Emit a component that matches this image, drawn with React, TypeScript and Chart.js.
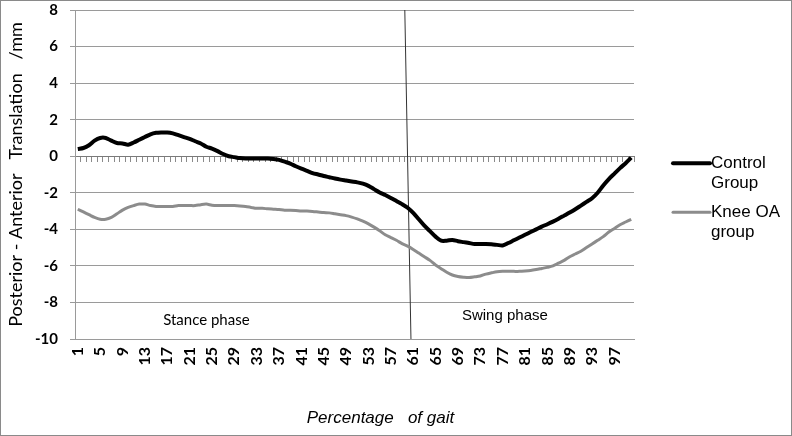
import React, { useEffect, useRef } from 'react';
import { Chart, registerables } from 'chart.js';

Chart.register(...registerables);

const categories = [
  1, 2, 3, 4, 5, 6, 7, 8, 9, 10, 11, 12, 13, 14, 15, 16, 17, 18, 19, 20,
  21, 22, 23, 24, 25, 26, 27, 28, 29, 30, 31, 32, 33, 34, 35, 36, 37, 38, 39, 40,
  41, 42, 43, 44, 45, 46, 47, 48, 49, 50, 51, 52, 53, 54, 55, 56, 57, 58, 59, 60,
  61, 62, 63, 64, 65, 66, 67, 68, 69, 70, 71, 72, 73, 74, 75, 76, 77, 78, 79, 80,
  81, 82, 83, 84, 85, 86, 87, 88, 89, 90, 91, 92, 93, 94, 95, 96, 97, 98, 99, 100,
];

const tickLabels = [1, 5, 9, 13, 17, 21, 25, 29, 33, 37, 41, 45, 49, 53, 57, 61, 65, 69, 73, 77, 81, 85, 89, 93, 97];

const yTicks = [-10, -8, -6, -4, -2, 0, 2, 4, 6, 8];

const controlGroup = [
  0.4, 0.45, 0.6, 0.85, 1.0, 1.0, 0.85, 0.72, 0.7, 0.63,
  0.75, 0.9, 1.05, 1.2, 1.28, 1.3, 1.3, 1.25, 1.15, 1.05,
  0.95, 0.82, 0.7, 0.52, 0.42, 0.28, 0.12, 0.0, -0.05, -0.1,
  -0.12, -0.12, -0.12, -0.12, -0.12, -0.15, -0.2, -0.3, -0.4, -0.55,
  -0.68, -0.8, -0.92, -1.0, -1.08, -1.15, -1.22, -1.28, -1.33, -1.38,
  -1.43, -1.5, -1.62, -1.8, -1.98, -2.12, -2.28, -2.45, -2.62, -2.82,
  -3.1, -3.45, -3.8, -4.1, -4.4, -4.62, -4.62, -4.58, -4.65, -4.7,
  -4.75, -4.8, -4.8, -4.8, -4.82, -4.85, -4.88, -4.75, -4.6, -4.45,
  -4.3, -4.15, -4.0, -3.85, -3.72, -3.58, -3.42, -3.25, -3.08, -2.9,
  -2.7, -2.5, -2.3, -2.0, -1.6, -1.25, -0.95, -0.65, -0.38, -0.08,
];

const kneeOAGroup = [
  -2.9, -3.05, -3.2, -3.35, -3.45, -3.45, -3.35, -3.15, -2.95, -2.8,
  -2.7, -2.62, -2.62, -2.7, -2.75, -2.75, -2.75, -2.75, -2.7, -2.7,
  -2.7, -2.7, -2.65, -2.62, -2.68, -2.7, -2.7, -2.7, -2.7, -2.72,
  -2.75, -2.8, -2.85, -2.85, -2.88, -2.9, -2.92, -2.95, -2.95, -2.97,
  -3.0, -3.0, -3.02, -3.05, -3.08, -3.1, -3.15, -3.2, -3.25, -3.33,
  -3.43, -3.55, -3.7, -3.88, -4.08, -4.3, -4.45, -4.6, -4.78, -4.92,
  -5.1, -5.3, -5.5, -5.7, -5.95, -6.15, -6.35, -6.5, -6.58, -6.62,
  -6.64, -6.6, -6.55, -6.45, -6.38, -6.32, -6.3, -6.3, -6.3, -6.3,
  -6.28, -6.25, -6.2, -6.14, -6.08, -6.0, -5.85, -5.7, -5.5, -5.35,
  -5.2, -5.0, -4.8, -4.6, -4.4, -4.15, -3.95, -3.75, -3.6, -3.45,
];

const phaseLineX = [59.5, 60.6];
const phaseLineY = [8, -10];

const seriesNames = [['Control', 'Group'], ['Knee OA', 'group']];
const phaseLabels = ['Stance phase', 'Swing phase'];
const phaseLabelX = [24, 77.4];
const phaseLabelY = [-8.98, -8.76];
const xTitle = 'Percentage   of gait';
const yTitle = 'Posterior - Anterior   Translation   /mm';

const legendPlugin = {
  id: 'sideLegend',
  afterDraw(chart: any) {
    const ctx = chart.ctx;
    const { right } = chart.chartArea;
    const yScale = chart.scales.y;
    ctx.save();
    const baseY = [yScale.getPixelForValue(0) + 7, yScale.getPixelForValue(0) + 56];
    chart.data.datasets.slice(0, 2).forEach((ds: any, i: number) => {
      const y = baseY[i];
      ctx.strokeStyle = ds.borderColor;
      ctx.lineWidth = ds.borderWidth;
      ctx.lineCap = 'round';
      ctx.beginPath();
      ctx.moveTo(right + 39, y);
      ctx.lineTo(right + 76, y);
      ctx.stroke();
      ctx.fillStyle = '#000';
      ctx.font = '17px "Liberation Sans", Arial, sans-serif';
      ctx.textAlign = 'left';
      ctx.textBaseline = 'middle';
      (ds.label as string[]).forEach((line: string, j: number) => {
        ctx.fillText(line, right + 77, y + j * 20);
      });
    });
    ctx.restore();
  },
};

const textPlugin = {
  id: 'phaseText',
  afterDatasetsDraw(chart: any) {
    const ctx = chart.ctx;
    const xs = chart.scales.x;
    const ys = chart.scales.y;
    const area = chart.chartArea;
    ctx.save();
    ctx.fillStyle = '#000';
    ctx.textAlign = 'center';
    ctx.textBaseline = 'middle';
    phaseLabels.forEach((t, i) => {
      ctx.font = i === 0 ? '15px Lato, sans-serif' : '15px "Liberation Sans", Arial, sans-serif';
      ctx.fillText(t, xs.getPixelForValue(phaseLabelX[i]), ys.getPixelForValue(phaseLabelY[i]));
    });
    ctx.font = 'italic 17px "Liberation Sans", Arial, sans-serif';
    ctx.fillText(xTitle, (area.left + area.right) / 2 + 26, chart.height - 18);
    ctx.restore();
  },
};

const framePlugin = {
  id: 'frame',
  afterDraw(chart: any) {
    const ctx = chart.ctx;
    ctx.save();
    ctx.strokeStyle = '#8a8a8a';
    ctx.lineWidth = 1;
    ctx.strokeRect(0.5, 0.5, chart.width - 1, chart.height - 1);
    ctx.restore();
  },
};

export default function App() {
  const ref = useRef<HTMLCanvasElement | null>(null);

  useEffect(() => {
    if (!ref.current) return;
    const chart = new Chart(ref.current, {
      type: 'line',
      data: {
        datasets: [
          {
            label: seriesNames[0] as any,
            data: categories.map((c, i) => ({ x: c, y: controlGroup[i] })),
            borderColor: '#000000',
            borderWidth: 4,
            pointRadius: 0,
            tension: 0.3,
            xAxisID: 'x',
          },
          {
            label: seriesNames[1] as any,
            data: categories.map((c, i) => ({ x: c, y: kneeOAGroup[i] })),
            borderColor: '#8c8c8c',
            borderWidth: 3,
            pointRadius: 0,
            tension: 0.3,
            xAxisID: 'x',
          },
          {
            label: 'phase',
            data: phaseLineX.map((x, i) => ({ x, y: phaseLineY[i] })),
            borderColor: '#333333',
            borderWidth: 1,
            pointRadius: 0,
            xAxisID: 'x',
          },
        ],
      },
      options: {
        responsive: false,
        animation: false,
        devicePixelRatio: 1,
        layout: { padding: { left: 0, right: 158, top: 10, bottom: 0 } },
        plugins: { legend: { display: false }, tooltip: { enabled: false } },
        scales: {
          x: {
            type: 'linear',
            position: 'bottom',
            min: 0.5,
            max: 100.5,
            afterBuildTicks: (scale: any) => {
              scale.ticks = tickLabels.map((v) => ({ value: v }));
            },
            afterFit: (scale: any) => {
              scale.height = 97;
              scale.paddingLeft = 0;
              scale.paddingRight = 0;
            },
            grid: { display: false, drawTicks: false },
            border: { display: true, color: '#9a9a9a', width: 1 },
            ticks: {
              autoSkip: false,
              maxRotation: 90,
              minRotation: 90,
              padding: 8,
              color: '#000',
              font: { family: 'Lato, sans-serif', size: 16, weight: 'bold' },
            },
          },
          x2: {
            type: 'linear',
            position: { y: 0 } as any,
            min: 0.5,
            max: 100.5,
            afterBuildTicks: (scale: any) => {
              scale.ticks = [0, ...categories].map((v) => ({ value: v + 0.5 }));
            },
            grid: { display: true, drawOnChartArea: false, drawTicks: true, tickLength: 5, color: '#8a8a8a' },
            border: { display: true, color: '#7a7a7a', width: 1 },
            ticks: { display: false, autoSkip: false },
          },
          y: {
            type: 'linear',
            min: -10,
            max: 8,
            afterBuildTicks: (scale: any) => {
              scale.ticks = yTicks.map((v) => ({ value: v }));
            },
            afterFit: (scale: any) => {
              scale.width = 75;
              scale.paddingTop = 0;
              scale.paddingBottom = 0;
            },
            grid: { color: '#9a9a9a', drawTicks: true, tickLength: 5 },
            border: { display: true, color: '#9a9a9a' },
            ticks: {
              padding: 12,
              color: '#000',
              font: { family: 'Lato, sans-serif', size: 15, weight: 'bold' },
            },
            title: {
              display: true,
              text: yTitle,
              color: '#000',
              font: { family: 'Lato, sans-serif', size: 18 },
              padding: { top: 5, bottom: 0 },
            },
          },
        },
      } as any,
      plugins: [textPlugin, legendPlugin, framePlugin],
    });
    return () => chart.destroy();
  }, []);

  return (
    <div style={{ position: 'absolute', left: 0, top: 0, width: 792, height: 436, background: '#fff' }}>
      <canvas ref={ref} width={792} height={436} style={{ width: 792, height: 436, display: 'block' }} />
    </div>
  );
}
